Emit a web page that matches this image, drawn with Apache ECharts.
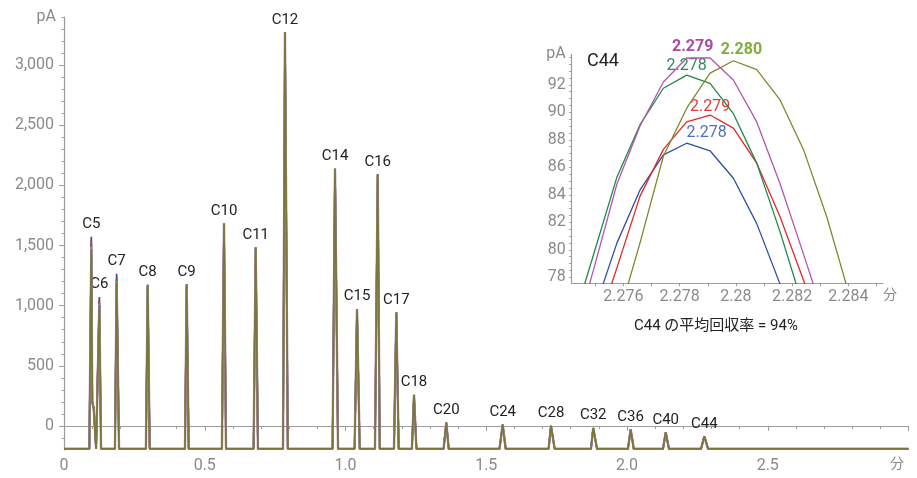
<!DOCTYPE html>
<html><head><meta charset="utf-8">
<script src="https://cdn.jsdelivr.net/npm/echarts@6/dist/echarts.min.js"></script>
<style>html,body{margin:0;padding:0;background:#fff}#c{width:917px;height:478px}</style>
</head><body><div id="c"></div>
<script>
// ---------- main chromatogram data ----------
const BASE = -190;
const peakNames  = ['C5','C6','C7','C8','C9','C10','C11','C12','C14','C15','C16','C17','C18','C20','C24','C28','C32','C36','C40','C44'];
const peakTimes  = [0.097,0.1255,0.187,0.2973,0.4358,0.5684,0.681,0.785,0.9627,1.0409,1.1144,1.1805,1.2433,1.358,1.5584,1.730,1.880,2.013,2.1375,2.2746];
const peakStarts = [0.090,0.119,0.181,0.291,0.4297,0.561,0.6735,0.778,0.954,1.0323,1.1047,1.1722,1.236,1.3485,1.547,1.7215,1.872,2.0035,2.128,2.263];
const peakEnds   = [0.114,0.1316,0.1955,0.3045,0.443,0.5756,0.689,0.795,0.9735,1.0505,1.1216,1.189,1.252,1.3667,1.569,1.743,1.8935,2.024,2.149,2.288];
const heightsOlive   = [1470,1005,1195,1164,1175,1683,1483,3273,2139,972,2092,944,258,28,11,0,-17,-28,-53,-86];
const heightsMagenta = [1490,1015,1205,1168,1175,1683,1483,3273,2139,972,2092,944,258,28,11,0,-17,-28,-53,-86];
const heightsGreen   = [1510,1025,1215,1172,1176,1683,1483,3273,2139,972,2092,944,258,28,11,0,-17,-28,-53,-86];
const heightsRed     = [1540,1050,1238,1170,1176,1683,1483,3273,2139,972,2092,944,258,28,11,0,-17,-28,-53,-86];
const heightsBlue    = [1572,1072,1265,1175,1177,1683,1483,3273,2139,972,2092,944,258,28,11,0,-17,-28,-53,-86];
const c5Shoulder = [[0.1005,195],[0.1055,150]];
const bumpStarts = [0.203,0.264,0.528,0.748,0.936,1.948];
const bumpTimes  = [0.205,0.266,0.530,0.750,0.938,1.950];
const bumpEnds   = [0.207,0.268,0.532,0.752,0.940,1.952];
const bumpHeights= [-185,-180,-186,-186,-182,-182];
const mainYLabels = [0,500,1000,1500,2000,2500,3000];
const mainYMinorTicks = [-100,0,100,200,300,400,500,600,700,800,900,1000,1100,1200,1300,1400,1500,1600,1700,1800,1900,2000,2100,2200,2300,2400,2500,2600,2700,2800,2900,3000,3100,3200,3300,3400];

// ---------- inset (C44) data ----------
const insetTimes   = [2.27410,2.27493,2.27577,2.27659,2.27742,2.27825,2.27908,2.27991,2.28074,2.28157,2.28240,2.28323,2.28406,2.28489];
const insetBlue    = [70.0,75.4,80.5,84.35,86.9,87.75,87.2,85.2,81.9,77.5,72.5,null,null,null];
const insetRed     = [68.0,73.5,78.7,83.9,87.3,89.3,89.8,88.85,86.3,82.4,77.8,72.8,null,null];
const insetGreen   = [74.0,79.6,85.3,89.1,91.75,92.7,92.1,89.9,86.3,81.3,75.8,70.0,null,null];
const insetMagenta = [72.5,78.5,84.8,89.0,92.2,93.95,93.95,92.35,89.3,84.8,79.7,74.5,null,null];
const insetOlive   = [null,70.0,74.7,80.5,86.8,90.3,92.85,93.75,93.1,90.9,87.3,82.4,76.5,70.0];
const insetApexLabels = ['2.278','2.279','2.278','2.279','2.280'];   // blue, red, green, magenta, olive
const insetApexIndex  = [5,6,5,5,7];
const insetXLabels = [2.276,2.278,2.280,2.282,2.284];
const insetXTicks  = [2.275,2.276,2.277,2.278,2.279,2.280,2.281,2.282,2.283,2.284,2.285];
const insetYLabels = [78,80,82,84,86,88,90,92];
const insetYTicks  = [78,78.5,79,79.5,80,80.5,81,81.5,82,82.5,83,83.5,84,84.5,85,85.5,86,86.5,87,87.5,88,88.5,89,89.5,90,90.5,91,91.5,92,92.5,93,93.5,94];

function buildTrace(heights){
  const items = [];
  peakTimes.forEach((t,i)=>{
    items.push([peakStarts[i],BASE],[t,heights[i]]);
    if(i===0) c5Shoulder.forEach(p=>items.push(p));
    items.push([peakEnds[i],BASE]);
  });
  bumpTimes.forEach((t,i)=>items.push([bumpStarts[i],BASE],[t,bumpHeights[i]],[bumpEnds[i],BASE]));
  items.sort((a,b)=>a[0]-b[0]);
  return [[0,BASE]].concat(items,[[3,BASE]]);
}

const AX='#9c9c9c', LBL='#8a8a8a', FONT='Roboto, "Noto Sans CJK JP", sans-serif';
const COL = {blue:'#2f4ea6', red:'#e6262b', green:'#1f8a45', magenta:'#a98aa8', olive:'#7b773c'};
const INSET_COL = {blue:'#2f4ea6', red:'#e6262b', green:'#1f8a45', magenta:'#b255b2', olive:'#85862c'};
const LABEL_COL = ['#4a72b8','#e53935','#2e8b57','#a94aa6','#7fae3c'];
const LABEL_BOLD = [false,false,false,true,true];
const LABEL_OFF = [[20,0],[0,0],[0,0],[6,0],[8,0]];
const LABEL_DIST = [2,0,1,3,3];

const mainSets = [['blue',heightsBlue],['red',heightsRed],['green',heightsGreen],['magenta',heightsMagenta],['olive',heightsOlive]];
const series = mainSets.map(([k,h],idx)=>({
  type:'line', xAxisIndex:0, yAxisIndex:0, data:buildTrace(h), showSymbol:false, symbol:'none',
  lineStyle:{color:COL[k], width:k==='magenta'?2.4:1.7}, z:2+idx, silent:true
}));
// peak labels
series[series.length-1].markPoint = {
  symbol:'circle', symbolSize:0, silent:true,
  label:{show:true, position:'top', distance:5, color:'#222', fontSize:15, fontFamily:FONT, formatter:'{b}'},
  data: peakNames.map((n,i)=>({name:n, coord:[peakTimes[i], Math.max(heightsOlive[i],heightsMagenta[i],heightsGreen[i],heightsRed[i],heightsBlue[i])]}))
};

const insetSets = [['blue',insetBlue],['red',insetRed],['green',insetGreen],['magenta',insetMagenta],['olive',insetOlive]];
insetSets.forEach(([k,vals],i)=>{
  series.push({
    type:'line', xAxisIndex:1, yAxisIndex:2, data:insetTimes.map((t,j)=>[t,vals[j]]),
    showSymbol:false, symbol:'none', connectNulls:false, clip:true, silent:true,
    lineStyle:{color:INSET_COL[k], width:1.3}, z:10+i,
    markPoint:{symbol:'circle', symbolSize:0, silent:true,
      label:{show:true, position:'top', distance:LABEL_DIST[i], offset:LABEL_OFF[i], color:LABEL_COL[i], fontSize:16,
        fontWeight:LABEL_BOLD[i]?'bold':'normal', fontFamily:FONT, formatter:'{b}'},
      data:[{name:insetApexLabels[i], coord:[insetTimes[insetApexIndex[i]], vals[insetApexIndex[i]]]}]}
  });
});

const option = {
  animation:false,
  backgroundColor:'#fff',
  textStyle:{fontFamily:FONT},
  grid:[
    {left:64, right:8.5, top:17, bottom:28},
    {left:571.7, right:34, top:54, bottom:194.7}
  ],
  xAxis:[
    {type:'value', gridIndex:0, min:0, max:3, interval:0.5,
     axisLine:{lineStyle:{color:AX, width:1.2}}, axisTick:{length:5, lineStyle:{color:AX}},
     minorTick:{show:true, splitNumber:5, length:3, lineStyle:{color:AX}},
     splitLine:{show:false}, minorSplitLine:{show:false},
     axisLabel:{color:LBL, fontSize:16, margin:8, showMaxLabel:false, fontFamily:FONT,
       formatter:v=> v===0?'0':v.toFixed(1)}},
    {type:'value', gridIndex:1, min:2.27416, max:2.28523,
     axisLine:{lineStyle:{color:AX, width:1.2}},
     axisTick:{length:3, customValues:insetXTicks, lineStyle:{color:AX}},
     splitLine:{show:false},
     axisLabel:{color:LBL, fontSize:16, margin:6, fontFamily:FONT, customValues:insetXLabels,
       formatter:v=> String(parseFloat(v.toFixed(3)))}}
  ],
  yAxis:[
    {type:'value', gridIndex:0, min:-200, max:3400,
     axisLine:{show:true, lineStyle:{color:AX, width:1.2}},
     axisTick:{show:true, length:5, customValues:mainYLabels, lineStyle:{color:AX}},
     splitLine:{show:false},
     axisLabel:{color:LBL, fontSize:16, margin:10, fontFamily:FONT, customValues:mainYLabels,
       formatter:v=> v.toLocaleString('en-US')},
     name:'pA', nameLocation:'end', nameGap:0,
     nameTextStyle:{color:LBL, fontSize:16, fontFamily:FONT, align:'right', verticalAlign:'middle', padding:[0,8,0,0]}},
    {type:'value', gridIndex:0, min:-200, max:3400, position:'left',
     axisLine:{show:false}, splitLine:{show:false},
     axisTick:{show:true, length:2.5, customValues:mainYMinorTicks, lineStyle:{color:AX}},
     axisLabel:{show:false, customValues:mainYMinorTicks}},
    {type:'value', gridIndex:1, min:77.56, max:94.24,
     axisLine:{show:true, lineStyle:{color:AX, width:1.2}},
     axisTick:{show:true, length:2.5, customValues:insetYTicks, lineStyle:{color:AX}},
     splitLine:{show:false},
     axisLabel:{color:LBL, fontSize:16, margin:6, fontFamily:FONT, customValues:insetYLabels},
     name:'pA', nameLocation:'end', nameGap:0,
     nameTextStyle:{color:LBL, fontSize:16, fontFamily:FONT, align:'right', verticalAlign:'middle', padding:[0,6,0,0]}}
  ],
  graphic:[
    {type:'text', left:587, top:53, style:{text:'C44', fontSize:18, fill:'#222', fontFamily:FONT}},
    {type:'text', left:634, top:319, style:{text:'C44 の平均回収率 = 94%', fontSize:15, fill:'#222', fontFamily:FONT}},
    {type:'text', left:890, top:458, style:{text:'分', fontSize:14, fill:LBL, fontFamily:FONT}},
    {type:'text', left:883, top:289, style:{text:'分', fontSize:14, fill:LBL, fontFamily:FONT}}
  ],
  series:series
};
const chart = echarts.init(document.getElementById('c'));
chart.setOption(option);
</script></body></html>
